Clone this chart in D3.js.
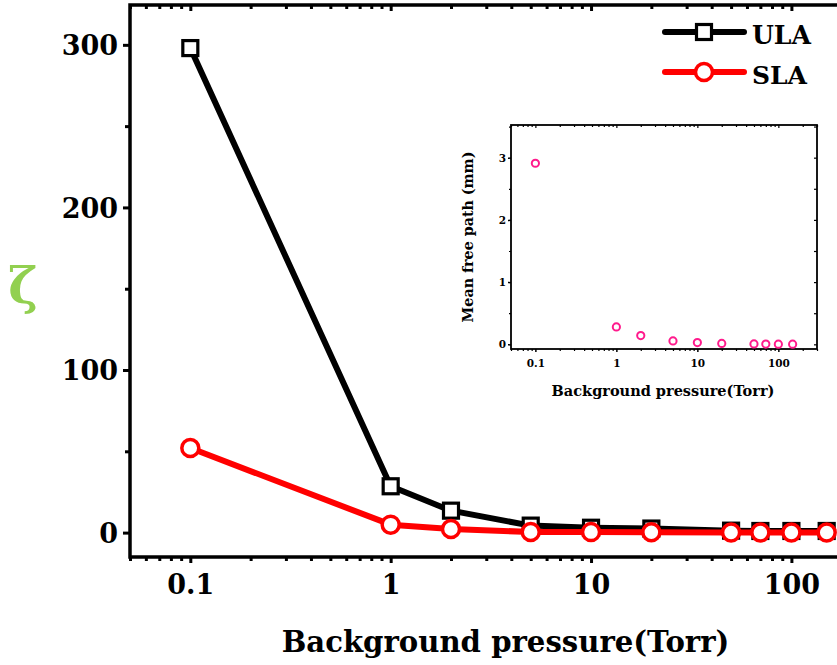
<!DOCTYPE html>
<html>
<head>
<meta charset="utf-8">
<script src="https://cdn.jsdelivr.net/npm/d3@7"></script>
<style>
  html, body { margin: 0; padding: 0; background: #fff; overflow: hidden; }
  svg { display: block; }
  text { font-family: "DejaVu Serif", "Liberation Serif", serif; font-weight: bold; }
</style>
</head>
<body>
<svg id="chart" width="837" height="665"></svg>
<script>
// Background pressure (Torr) at each measurement
const pressure = [0.1, 1, 2, 5, 10, 20, 50, 70, 100, 150];
// zeta for the unshielded (ULA) and shielded (SLA) cases
const ula = [298, 28.5, 13.5, 4.3, 3, 2.5, 1.2, 1, 1, 1];
const sla = [52, 4.9, 2.2, 0.4, 0.3, 0.2, 0.1, 0.1, 0.1, 0.1];
// Mean free path (mm) for the inset
const mfp = [2.91, 0.28, 0.14, 0.055, 0.028, 0.014, 0.006, 0.004, 0.003, 0.002];

const mainYTicks = [0, 100, 200, 300];
const mainYMinor = [50, 150, 250];
const xTickLabels = [0.1, 1, 10, 100];
const insetYTicks = [0, 1, 2, 3];
const insetYMinor = [0.5, 1.5, 2.5, 3.5];
const seriesNames = ["ULA", "SLA"];

const svg = d3.select("#chart");

// ---------- main panel ----------
const M = { left: 130, right: 887, top: 5, bottom: 557 };
const x = d3.scaleLog().domain([0.05, 300]).range([M.left, M.right]);
const y = d3.scaleLinear().domain([-15, 324.5]).range([M.bottom, M.top]);

const fmtX = d => (d < 1 ? d3.format(".1f")(d) : d3.format("d")(d));
const minorX = x.ticks().filter(d => !xTickLabels.includes(d));

function styleAxis(g, sw) {
  g.select(".domain").remove();
  g.selectAll(".tick line").attr("stroke", "#000").attr("stroke-width", sw);
}

// left axis: major + minor ticks
svg.append("g").attr("transform", `translate(${M.left},0)`)
  .call(d3.axisLeft(y).tickValues(mainYTicks).tickSize(7).tickPadding(5).tickFormat(d3.format("d")))
  .call(g => styleAxis(g, 3))
  .call(g => g.selectAll("text").attr("font-size", 27).attr("fill", "#000").attr("dy", "0.36em"));
svg.append("g").attr("transform", `translate(${M.left},0)`)
  .call(d3.axisLeft(y).tickValues(mainYMinor).tickSize(5).tickFormat(""))
  .call(g => styleAxis(g, 3));

// bottom axis
svg.append("g").attr("transform", `translate(0,${M.bottom})`)
  .call(d3.axisBottom(x).tickValues(xTickLabels).tickSize(6).tickPadding(12).tickFormat(fmtX))
  .call(g => styleAxis(g, 3))
  .call(g => g.selectAll("text").attr("font-size", 27).attr("fill", "#000"));
svg.append("g").attr("transform", `translate(0,${M.bottom})`)
  .call(d3.axisBottom(x).tickValues(minorX).tickSize(4).tickFormat(""))
  .call(g => styleAxis(g, 3));

// top axis (ticks pointing inward)
svg.append("g").attr("transform", `translate(0,${M.top})`)
  .call(d3.axisBottom(x).tickValues(xTickLabels).tickSize(6).tickFormat(""))
  .call(g => styleAxis(g, 3));
svg.append("g").attr("transform", `translate(0,${M.top})`)
  .call(d3.axisBottom(x).tickValues(minorX).tickSize(4).tickFormat(""))
  .call(g => styleAxis(g, 3));

// frame
svg.append("rect")
  .attr("x", M.left).attr("y", M.top)
  .attr("width", M.right - M.left).attr("height", M.bottom - M.top)
  .attr("fill", "none").attr("stroke", "#000").attr("stroke-width", 3.5);

// fit a text element to a target width by adjusting font size
function fitWidth(sel, target) {
  const node = sel.node();
  const fs = parseFloat(sel.attr("font-size"));
  const w = node.getComputedTextLength();
  sel.attr("font-size", fs * target / w);
}

// axis titles
svg.append("text")
  .attr("x", 505.5).attr("y", 652)
  .attr("text-anchor", "middle").attr("font-size", 30).attr("fill", "#000")
  .text("Background pressure(Torr)")
  .call(s => fitWidth(s, 448));

svg.append("text")
  .attr("x", 23).attr("y", 303)
  .attr("text-anchor", "middle").attr("font-size", 50).attr("font-weight", "normal")
  .attr("fill", "#92d050")
  .text("ζ");

// series
const lineGen = vals => d3.line().x((d, i) => x(pressure[i])).y(d => y(d))(vals);

svg.append("path").attr("d", lineGen(ula))
  .attr("fill", "none").attr("stroke", "#000").attr("stroke-width", 6).attr("stroke-linejoin", "round");
svg.selectAll(".sq").data(ula).enter().append("rect")
  .attr("x", (d, i) => x(pressure[i]) - 7.5).attr("y", d => y(d) - 7.5)
  .attr("width", 15).attr("height", 15)
  .attr("fill", "#fff").attr("stroke", "#000").attr("stroke-width", 3.2);

svg.append("path").attr("d", lineGen(sla))
  .attr("fill", "none").attr("stroke", "#ff0000").attr("stroke-width", 6).attr("stroke-linejoin", "round");
svg.selectAll(".ci").data(sla).enter().append("circle")
  .attr("cx", (d, i) => x(pressure[i])).attr("cy", d => y(d)).attr("r", 8.5)
  .attr("fill", "#fff").attr("stroke", "#ff0000").attr("stroke-width", 3.5);

// legend
const legend = svg.append("g");
const legendRows = [
  { name: seriesNames[0], y: 32, color: "#000", shape: "square" },
  { name: seriesNames[1], y: 72, color: "#ff0000", shape: "circle" }
];
legendRows.forEach(r => {
  legend.append("line").attr("x1", 665).attr("x2", 744).attr("y1", r.y).attr("y2", r.y)
    .attr("stroke", r.color).attr("stroke-width", 6).attr("stroke-linecap", "round");
  if (r.shape === "square") {
    legend.append("rect").attr("x", 704 - 7.5).attr("y", r.y - 7.5).attr("width", 15).attr("height", 15)
      .attr("fill", "#fff").attr("stroke", r.color).attr("stroke-width", 3.2);
  } else {
    legend.append("circle").attr("cx", 704).attr("cy", r.y).attr("r", 8.5)
      .attr("fill", "#fff").attr("stroke", r.color).attr("stroke-width", 3.5);
  }
  legend.append("text").attr("x", 752).attr("y", r.y + 11.5)
    .attr("font-size", 26).attr("fill", "#000").text(r.name)
    .call(s => fitWidth(s, r.name === "ULA" ? 59 : 55));
});

// ---------- inset ----------
const I = { left: 511, right: 817, top: 125, bottom: 349 };
const xi = d3.scaleLog().domain([0.05, 300]).range([I.left, I.right]);
const yi = d3.scaleLinear().domain([-0.075, 3.525]).range([I.bottom, I.top]);
const inset = svg.append("g");
const minorXi = xi.ticks().filter(d => !xTickLabels.includes(d));

inset.append("g").attr("transform", `translate(${I.left},0)`)
  .call(d3.axisLeft(yi).tickValues(insetYTicks).tickSize(3).tickPadding(2).tickFormat(d3.format("d")))
  .call(g => styleAxis(g, 1.5))
  .call(g => g.selectAll("text").attr("font-size", 10.5).attr("fill", "#000"));
inset.append("g").attr("transform", `translate(${I.left},0)`)
  .call(d3.axisLeft(yi).tickValues(insetYMinor).tickSize(2).tickFormat(""))
  .call(g => styleAxis(g, 1.2));
inset.append("g").attr("transform", `translate(${I.right},0)`)
  .call(d3.axisLeft(yi).tickValues(insetYTicks.concat(insetYMinor)).tickSize(3).tickFormat(""))
  .call(g => styleAxis(g, 1.2));
inset.append("g").attr("transform", `translate(0,${I.bottom})`)
  .call(d3.axisBottom(xi).tickValues(xTickLabels).tickSize(3).tickPadding(8).tickFormat(fmtX))
  .call(g => styleAxis(g, 1.5))
  .call(g => g.selectAll("text").attr("font-size", 10.5).attr("fill", "#000"));
inset.append("g").attr("transform", `translate(0,${I.bottom})`)
  .call(d3.axisBottom(xi).tickValues(minorXi).tickSize(2).tickFormat(""))
  .call(g => styleAxis(g, 1.2));
inset.append("g").attr("transform", `translate(0,${I.top})`)
  .call(d3.axisBottom(xi).tickValues(xTickLabels).tickSize(3).tickFormat(""))
  .call(g => styleAxis(g, 1.2));
inset.append("g").attr("transform", `translate(0,${I.top})`)
  .call(d3.axisBottom(xi).tickValues(minorXi).tickSize(2).tickFormat(""))
  .call(g => styleAxis(g, 1.2));

inset.append("rect")
  .attr("x", I.left).attr("y", I.top)
  .attr("width", I.right - I.left).attr("height", I.bottom - I.top)
  .attr("fill", "none").attr("stroke", "#000").attr("stroke-width", 1.8);

inset.selectAll(".mfp").data(mfp).enter().append("circle")
  .attr("cx", (d, i) => xi(pressure[i])).attr("cy", d => yi(d)).attr("r", 3.6)
  .attr("fill", "none").attr("stroke", "#ff1a8c").attr("stroke-width", 2);

inset.append("text")
  .attr("x", 663).attr("y", 396)
  .attr("text-anchor", "middle").attr("font-size", 13).attr("fill", "#000")
  .text("Background pressure(Torr)")
  .call(s => fitWidth(s, 223));

inset.append("text")
  .attr("transform", "translate(473,237) rotate(-90)")
  .attr("text-anchor", "middle").attr("font-size", 13).attr("fill", "#000")
  .text("Mean free path (mm)")
  .call(s => fitWidth(s, 171));
</script>
</body>
</html>
